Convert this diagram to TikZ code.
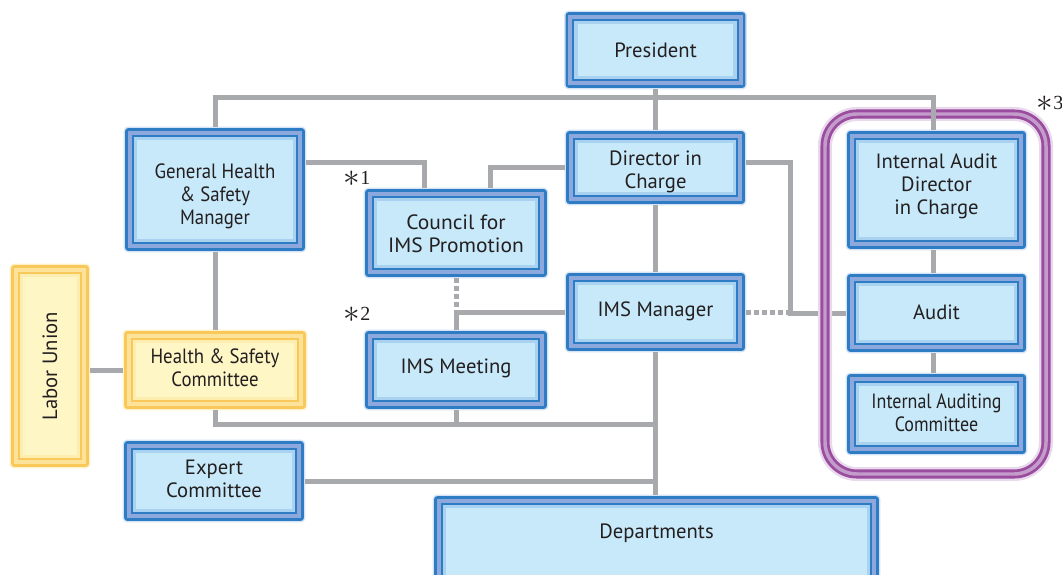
\documentclass[tikz,border=0pt]{standalone}
\usepackage{fontspec}
\usepackage{graphicx}
\setmainfont{PT Sans}
\newfontfamily\notefont{Liberation Serif}
\usetikzlibrary{calc}
\pgfdeclarelayer{background}
\pgfsetlayers{background,main}

% palettes for the framed boxes
\definecolor{blueglow}{HTML}{D4E3F5}
\definecolor{bluedark}{HTML}{2E7DC4}
\definecolor{blueband}{HTML}{8DA8DC}
\definecolor{bluelight}{HTML}{A9D2F0}
\definecolor{bluefill}{HTML}{C7E9F9}
\definecolor{yellowglow}{HTML}{FFF1C8}
\definecolor{yellowdark}{HTML}{F8C95A}
\definecolor{yellowband}{HTML}{FDE39A}
\definecolor{yellowlight}{HTML}{FDEEB0}
\definecolor{yellowfill}{HTML}{FFF6C6}
\definecolor{purpleglow}{HTML}{E8D9EC}
\definecolor{purpledark}{HTML}{9A4D9F}
\definecolor{purpleband}{HTML}{C49CCB}
\definecolor{linkgray}{HTML}{A7A9AC}
\definecolor{inkc}{HTML}{231F20}

\newcommand\unitfont{\fontsize{15.5}{17.2}\selectfont}

% box text: lift (pt, upwards) from the box centre, horizontal squeeze, lines;
% the text takes no height so the box keeps its own centre
\newcommand\boxtext[3]{\raisebox{\dimexpr #1-0.25em-2pt\relax}[0pt][0pt]{%
  \scalebox{#2}[1]{\begin{tabular}{@{}c@{}}#3\end{tabular}}}}

% footnote mark: large asterisk and a figure
\newcommand\notemark[1]{{\fontsize{24}{24}\selectfont$\ast$}\raisebox{2pt}{#1}}

% layered frame behind a node: glow, outer line, band, inner line, light band, fill
\newcommand\unitframe[2]{%
  \begin{pgfonlayer}{background}
    \fill[#2glow,rounded corners=3] (#1.south west) rectangle (#1.north east);
    \fill[#2dark,rounded corners=2] ($(#1.south west)+(1.5,-1.5)$) rectangle ($(#1.north east)+(-1.5,1.5)$);
    \fill[#2band] ($(#1.south west)+(4,-4)$) rectangle ($(#1.north east)+(-4,4)$);
    \fill[#2dark] ($(#1.south west)+(8,-8)$) rectangle ($(#1.north east)+(-8,8)$);
    \fill[#2light] ($(#1.south west)+(10,-10)$) rectangle ($(#1.north east)+(-10,10)$);
    \fill[#2fill] ($(#1.south west)+(13.5,-13.5)$) rectangle ($(#1.north east)+(-13.5,13.5)$);
  \end{pgfonlayer}}

\begin{document}
\begin{tikzpicture}[x=0.75pt,y=-0.75pt,
  unit/.style={inner sep=0pt, align=center, text=inkc, font=\unitfont},
  box/.style 2 args={minimum width=#1*0.75pt, minimum height=#2*0.75pt},
  link/.style={draw=linkgray, line width=3.75pt},
  dotlink/.style={link, dash pattern=on 3.75pt off 2.25pt},
  note/.style={inner sep=0pt, text=inkc, font=\notefont\fontsize{15}{15}\selectfont},
  groupline/.style={rounded corners=24pt}]
\useasboundingbox (0,0) rectangle (1062,574);

% units
\node[unit, box={182}{78}]  (pres)   at (655.5,50)    {\boxtext{0pt}{1}{President}};
\node[unit, box={182}{125}] (ghsm)   at (215,189.5)   {\boxtext{-3.4pt}{0.91}{General Health\\\& Safety\\Manager}};
\node[unit, box={181}{75}]  (dic)    at (655.5,167.5) {\boxtext{-1.1pt}{1}{Director in\\Charge}};
\node[unit, box={184}{90}]  (cip)    at (456,233)     {\boxtext{0pt}{1.04}{Council for\\IMS Promotion}};
\node[unit, box={181}{80}]  (imsm)   at (655.5,312)   {\boxtext{2.2pt}{1}{IMS Manager}};
\node[unit, box={184}{80}]  (imeet)  at (456,370)     {\boxtext{3pt}{1}{IMS Meeting}};
\node[unit, box={181}{120}] (iadc)   at (936.5,190)   {\boxtext{4.5pt}{1}{Internal Audit\\Director\\in Charge}};
\node[unit, box={181}{80}]  (audit)  at (936.5,313)   {\boxtext{0.75pt}{1}{Audit}};
\node[unit, box={181}{82}]  (iac)    at (936.5,414)   {\boxtext{1.5pt}{0.87}{Internal Auditing\\Committee}};
\node[unit, box={80}{204}]  (labor)  at (50,366)      {\rotatebox{90}{Labor Union}};
\node[unit, box={184}{80}]  (hsc)    at (215,370)     {\boxtext{2.25pt}{0.91}{Health \& Safety\\Committee}};
\node[unit, box={182}{82}]  (expert) at (214,481)     {\boxtext{1.9pt}{1}{Expert\\Committee}};
\node[unit, box={447}{105}] (dept)   at (656.5,547.5) {\boxtext{12.4pt}{1}{Departments}};

\foreach \n in {pres,ghsm,dic,cip,imsm,imeet,iadc,audit,iac,expert,dept}
  {\unitframe{\n}{blue}}
\unitframe{labor}{yellow}
\unitframe{hsc}{yellow}

% junction points
\coordinate (busL) at (216,98);
\coordinate (busR) at (933,98);
\coordinate (k1) at (424,162);
\coordinate (k2) at (490,167);
\coordinate (k3) at (790,162);
\coordinate (k5) at (655.5,424);

% audit route runs under the audit group frame
\draw[link] (dic.east |- k3) -| (audit.west -| k3) -- (audit.west);
\draw[dotlink] (imsm.east) -- (imsm.east -| k3);

% audit group frame
\draw[groupline, line width=10.5pt, purpleglow] (825,114) rectangle (1046,474);
\draw[groupline, line width=6.8pt, purpledark] (825,114) rectangle (1046,474);
\draw[groupline, line width=2.6pt, purpleband] (825,114) rectangle (1046,474);

% connectors
\draw[link] (pres.south) -- (pres.south |- dic.north);
\draw[link] (ghsm.north) -- (ghsm.north |- busL) -- (busR) -- (busR |- iadc.north);
\draw[link] (iadc.south -| busR) -- (audit.north -| busR);
\draw[link] (audit.south -| busR) -- (iac.north -| busR);
\draw[link] (ghsm.east |- k1) -| (cip.north -| k1);
\draw[link] (dic.west) -| (cip.north -| k2);
\draw[link] (dic.south) -- (imsm.north);
\draw[dotlink] (cip.south) -- (cip.south |- imsm.west);
\draw[link] (imsm.west) -| (imeet.north);
\draw[link] (imsm.south) -- (imsm.south |- dept.north);
\draw[link] (ghsm.south) -- (hsc.north);
\draw[link] (hsc.south) |- (k5);
\draw[link] (imeet.south) -- (imeet.south |- k5);
\draw[link] (expert.east) -- (expert.east -| k5);
\draw[link] (labor.east |- hsc.west) -- (hsc.west);

% footnote marks
\node[note] (n1) at (357,179) {\notemark{1}};
\node[note] (n2) at (357,315) {\notemark{2}};
\node[note] (n3) at (1050,104) {\notemark{3}};
\end{tikzpicture}
\end{document}
